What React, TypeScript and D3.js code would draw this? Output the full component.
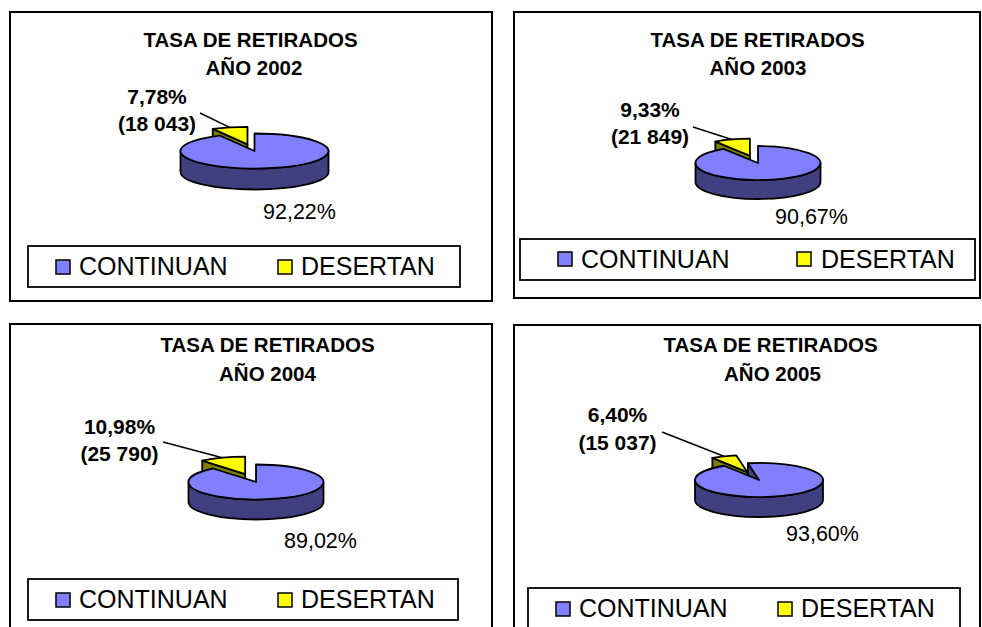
import React from "react";
import * as d3 from "d3";

// ---------- DATA ----------
const years = ["2002", "2003", "2004", "2005"];
const seriesNames = ["CONTINUAN", "DESERTAN"];
const continuanPct = [92.22, 90.67, 89.02, 93.6];
const desertanPct = [7.78, 9.33, 10.98, 6.4];
const desertanCount = ["18 043", "21 849", "25 790", "15 037"];
const titleText = "TASA DE RETIRADOS";

// ---------- STYLE ----------
const topColors = ["#8080FF", "#FFFF00"];
const sideColors = ["#404080", "#808000"];
const FONT = "'Liberation Sans', Arial, Helvetica, sans-serif";

// ---------- LAYOUT (per panel) ----------
const layouts = [
  {
    frame: [10, 12, 492, 301],
    t1: [250.5, 47], t2: [254, 75],
    pie: { cx: 254.5, cy: 151, rx: 74, ry: 17.5, depth: 21, explode: 29, rot: 0 },
    lab: { x: 157, y1: 104, y2: 131, lx: 200, ly: 113 },
    big: [263, 219],
    legend: { box: [28, 246, 460, 287], sw: [56, 278], swy: 260, tx: [79, 301], ty: 275 },
  },
  {
    frame: [514, 12, 980, 298],
    t1: [757.5, 47], t2: [758, 75],
    pie: { cx: 758, cy: 163, rx: 62.5, ry: 17, depth: 19, explode: 28, rot: 0 },
    lab: { x: 650, y1: 117, y2: 144, lx: 693, ly: 127 },
    big: [775, 224],
    legend: { box: [520, 239, 975, 280], sw: [558, 797], swy: 252, tx: [581, 821], ty: 268 },
  },
  {
    frame: [10, 324, 492, 660],
    t1: [267.5, 352], t2: [267.5, 381],
    pie: { cx: 256, cy: 482, rx: 67.5, ry: 17.5, depth: 20, explode: 32, rot: 0 },
    lab: { x: 119.5, y1: 434, y2: 461, lx: 163, ly: 442 },
    big: [284, 548],
    legend: { box: [28, 579, 458, 620], sw: [56, 278], swy: 593, tx: [79, 301], ty: 608 },
  },
  {
    frame: [514, 325, 980, 660],
    t1: [770.5, 352], t2: [772.5, 381],
    pie: { cx: 759, cy: 480, rx: 64, ry: 17, depth: 20, explode: 32, rot: (-10 * Math.PI) / 180 },
    lab: { x: 617.5, y1: 422, y2: 450, lx: 662, ly: 432 },
    big: [786, 541],
    legend: { box: [528, 588, 960, 629], sw: [556, 778], swy: 602, tx: [579, 801], ty: 617 },
  },
];

const fmtPct = (v: number) => v.toFixed(2).replace(".", ",") + "%";

function Pie3D({ idx }: { idx: number }) {
  const L = layouts[idx];
  const { cx, cy, rx, ry, depth, explode, rot } = L.pie;
  const arcs = d3
    .pie<number>()
    .sort(null)
    .startAngle(rot)
    .endAngle(rot + 2 * Math.PI)([continuanPct[idx], desertanPct[idx]]);

  const slices = arcs.map((a, i) => {
    const mid = (a.startAngle + a.endAngle) / 2;
    const d = i === 1 ? explode : 0;
    const ox = d * Math.sin(mid);
    const oy = (-d * Math.cos(mid) * ry) / rx;
    const ccx = cx + ox;
    const ccy = cy + oy;
    const pt = (ang: number, dz = 0): [number, number] => [
      ccx + rx * Math.sin(ang),
      ccy - ry * Math.cos(ang) + dz,
    ];
    const a0 = a.startAngle;
    const a1 = a.endAngle;
    const [x0, y0] = pt(a0);
    const [x1, y1] = pt(a1);
    const large = a1 - a0 > Math.PI ? 1 : 0;
    const top = `M${ccx},${ccy}L${x0},${y0}A${rx},${ry} 0 ${large} 1 ${x1},${y1}Z`;
    const sides: string[] = [];
    if (Math.sin(a0) < -1e-6) {
      const [px, py] = pt(a0);
      sides.push(`M${ccx},${ccy}L${px},${py}L${px},${py + depth}L${ccx},${ccy + depth}Z`);
    }
    if (Math.sin(a1) > 1e-6) {
      const [px, py] = pt(a1);
      sides.push(`M${ccx},${ccy}L${px},${py}L${px},${py + depth}L${ccx},${ccy + depth}Z`);
    }
    for (let k = -1; k <= 2; k++) {
      const lo = Math.PI / 2 + 2 * Math.PI * k;
      const hi = (3 * Math.PI) / 2 + 2 * Math.PI * k;
      const s = Math.max(a0, lo);
      const e = Math.min(a1, hi);
      if (e > s) {
        const [sx, sy] = pt(s);
        const [ex, ey] = pt(e);
        sides.push(
          `M${sx},${sy}A${rx},${ry} 0 0 1 ${ex},${ey}L${ex},${ey + depth}A${rx},${ry} 0 0 0 ${sx},${sy + depth}Z`
        );
      }
    }
    return { i, mid, top, sides, midPt: pt(mid) };
  });

  const order = [...slices].sort((p, q) => -Math.cos(p.mid) - -Math.cos(q.mid));
  const des = slices[1];

  return (
    <g>
      {order.map((s) => (
        <g key={s.i}>
          {s.sides.map((p, j) => (
            <path key={j} d={p} fill={sideColors[s.i]} stroke="#000" strokeWidth={1.8} strokeLinejoin="round" />
          ))}
          <path d={s.top} fill={topColors[s.i]} stroke="#000" strokeWidth={1.8} strokeLinejoin="round" />
        </g>
      ))}
      <line x1={L.lab.lx} y1={L.lab.ly} x2={des.midPt[0]} y2={des.midPt[1]} stroke="#000" strokeWidth={1.5} />
    </g>
  );
}

function Panel({ idx }: { idx: number }) {
  const L = layouts[idx];
  const [fx0, fy0, fx1, fy1] = L.frame;
  const [bx0, by0, bx1, by1] = L.legend.box;
  return (
    <g>
      <rect x={fx0} y={fy0} width={fx1 - fx0} height={fy1 - fy0} fill="#fff" stroke="#000" strokeWidth={2} />
      <text x={L.t1[0]} y={L.t1[1]} textAnchor="middle" fontFamily={FONT} fontWeight="bold" fontSize={20.5}>
        {titleText}
      </text>
      <text x={L.t2[0]} y={L.t2[1]} textAnchor="middle" fontFamily={FONT} fontWeight="bold" fontSize={20.5}>
        {"AÑO " + years[idx]}
      </text>
      <Pie3D idx={idx} />
      <text x={L.lab.x} y={L.lab.y1} textAnchor="middle" fontFamily={FONT} fontWeight="bold" fontSize={21}>
        {fmtPct(desertanPct[idx])}
      </text>
      <text x={L.lab.x} y={L.lab.y2} textAnchor="middle" fontFamily={FONT} fontWeight="bold" fontSize={21}>
        {"(" + desertanCount[idx] + ")"}
      </text>
      <text x={L.big[0]} y={L.big[1]} fontFamily={FONT} fontSize={21.5}>
        {fmtPct(continuanPct[idx])}
      </text>
      <rect x={bx0} y={by0} width={bx1 - bx0} height={by1 - by0} fill="#fff" stroke="#000" strokeWidth={1.8} />
      {seriesNames.map((n, i) => (
        <g key={n}>
          <rect x={L.legend.sw[i]} y={L.legend.swy} width={14} height={14} fill={topColors[i]} stroke="#000" strokeWidth={1.5} />
          <text x={L.legend.tx[i]} y={L.legend.ty} fontFamily={FONT} fontSize={25}>
            {n}
          </text>
        </g>
      ))}
    </g>
  );
}

export default function App() {
  return (
    <svg
      width={982}
      height={627}
      style={{ position: "absolute", left: 0, top: 0, background: "#fff" }}
    >
      <rect x={0} y={0} width={982} height={627} fill="#fff" />
      {years.map((y, i) => (
        <Panel key={y} idx={i} />
      ))}
    </svg>
  );
}
